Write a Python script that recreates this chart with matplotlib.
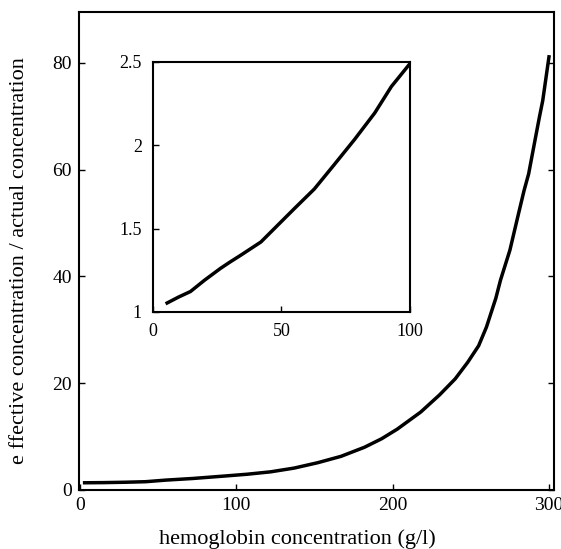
import matplotlib.pyplot as plt

plt.rcParams['font.family'] = ['Liberation Serif', 'DejaVu Serif']

# main curve
hb = [3, 15, 29, 42, 55, 72, 92, 107, 122, 137, 152, 167, 182, 193, 203, 218, 230,
      240, 248, 255, 260, 266, 269, 275, 280, 284, 287, 291, 294, 296, 298, 300]
ratio = [1.35, 1.38, 1.45, 1.55, 1.85, 2.15, 2.6, 2.95, 3.4, 4.1, 5.1, 6.3, 8.0, 9.6,
         11.4, 14.6, 17.8, 20.8, 23.9, 27.0, 30.5, 35.9, 39.3, 44.9, 51.1, 56.0,
         59.2, 65.4, 70.0, 72.9, 77.0, 81.1]

# inset (0-100 g/l)
hb_in = [5.5, 10, 14.6, 20, 26.3, 30, 34.2, 42, 49.8, 55, 62.8, 70.7, 78.5, 86.3,
         92.8, 100]
ratio_in = [1.054, 1.09, 1.123, 1.19, 1.262, 1.30, 1.341, 1.42, 1.54, 1.62, 1.738,
            1.887, 2.036, 2.194, 2.353, 2.49]

fig = plt.figure(figsize=(5.61, 5.49), dpi=100)
ax = fig.add_axes([0.1408, 0.1075, 0.8467, 0.8707])
ax.plot(hb, ratio, color='black', lw=2.5)
ax.set_xlim(-0.6, 303.2)
ax.set_ylim(0, 89.5)
ax.set_xticks([0, 100, 200, 300])
ax.set_yticks([0, 20, 40, 60, 80])
ax.tick_params(direction='in', right=True, labelsize=14, length=4, width=1, pad=5)
for s in ax.spines.values():
    s.set_linewidth(1.5)
ax.set_xlabel('hemoglobin concentration (g/l)', fontsize=16)
ax.set_ylabel('e ffective concentration / actual concentration', fontsize=16)
ax.xaxis.set_label_coords(0.46, -0.083)
ax.yaxis.set_label_coords(-0.105, 0.48)

ins = fig.add_axes([0.2727, 0.4317, 0.458, 0.4554])
ins.plot(hb_in, ratio_in, color='black', lw=2.5)
ins.set_xlim(0, 100)
ins.set_ylim(1, 2.5)
ins.set_xticks([0, 50, 100])
ins.set_yticks([1, 1.5, 2, 2.5])
ins.set_yticklabels(['1', '1.5', '2', '2.5'])
ins.tick_params(direction='in', labelsize=13, length=4, width=1, pad=8)
for s in ins.spines.values():
    s.set_linewidth(1.5)

fig.savefig('out.png', dpi=100)
